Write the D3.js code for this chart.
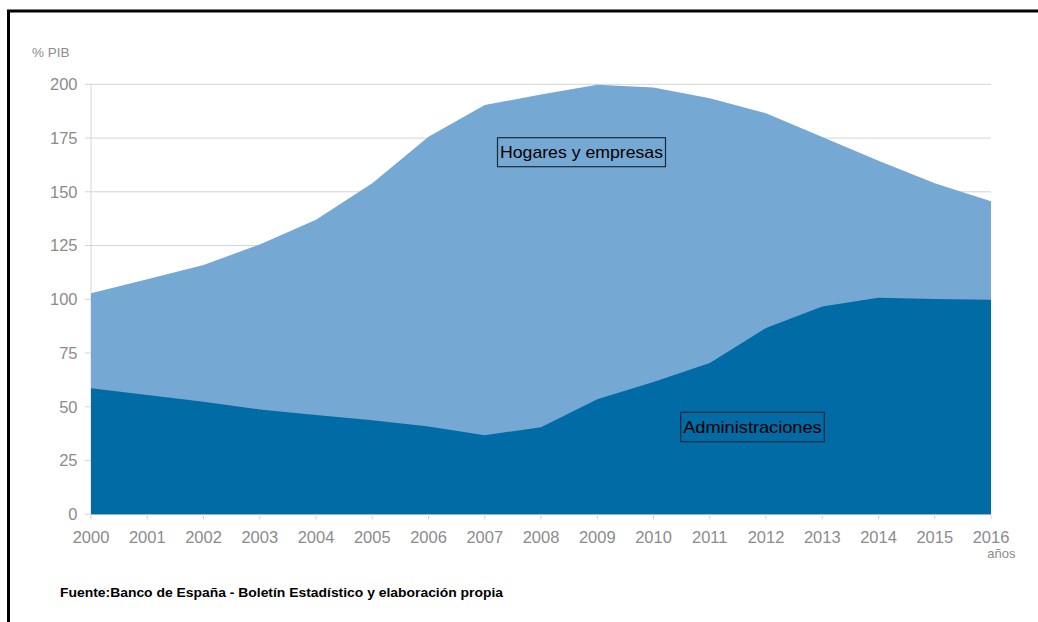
<!DOCTYPE html>
<html>
<head>
<meta charset="utf-8">
<script src="https://cdn.jsdelivr.net/npm/d3@7"></script>
<style>
  html, body { margin: 0; padding: 0; background: #fff; }
  svg { display: block; font-family: "Liberation Sans", Arial, sans-serif; }
</style>
</head>
<body>
<svg id="chart" width="1038" height="622"></svg>
<script>
// ---- data ----
const years = [2000, 2001, 2002, 2003, 2004, 2005, 2006, 2007, 2008, 2009, 2010, 2011, 2012, 2013, 2014, 2015, 2016];
const administraciones = [58.6, 55.5, 52.3, 48.8, 46.2, 43.8, 40.8, 36.8, 40.5, 53.5, 61.5, 70.4, 86.6, 96.6, 100.7, 100.1, 99.8];
const totalDeuda = [102.8, 109.3, 116.0, 125.5, 137.0, 154.0, 175.6, 190.4, 195.2, 199.8, 198.5, 193.5, 186.5, 175.5, 164.5, 154.0, 145.6];
const yTicks = [0, 25, 50, 75, 100, 125, 150, 175, 200];
const seriesNames = ["Administraciones", "Hogares y empresas"];
const yUnit = "% PIB";
const xUnit = "años";
const source = "Fuente:Banco de España - Boletín Estadístico y elaboración propia";

// ---- layout ----
const svg = d3.select("#chart");
const x = d3.scaleLinear().domain([2000, 2016]).range([91, 991]);
const y = d3.scaleLinear().domain([0, 200]).range([514.3, 84.3]);
const gray = "#8c8c8c";
const gridColor = "#d4d4d4";

// frame
svg.append("rect")
  .attr("x", 8.5).attr("y", 11).attr("width", 1100).attr("height", 700)
  .attr("fill", "none").attr("stroke", "#000").attr("stroke-width", 3);

// gridlines
svg.append("g").selectAll("line").data(yTicks).join("line")
  .attr("x1", 85).attr("x2", x(2016))
  .attr("y1", d => y(d)).attr("y2", d => y(d))
  .attr("stroke", gridColor).attr("stroke-width", 1);

// y axis line
svg.append("line")
  .attr("x1", x(2000)).attr("x2", x(2000))
  .attr("y1", y(200)).attr("y2", y(0))
  .attr("stroke", gridColor);

const data = years.map((yr, i) => ({ yr, adm: administraciones[i], tot: totalDeuda[i] }));

const areaTot = d3.area().x(d => x(d.yr)).y0(y(0)).y1(d => y(d.tot)).curve(d3.curveLinear);
const areaAdm = d3.area().x(d => x(d.yr)).y0(y(0)).y1(d => y(d.adm)).curve(d3.curveLinear);

svg.append("path").datum(data).attr("d", areaTot).attr("fill", "#75a8d3");
svg.append("path").datum(data).attr("d", areaAdm).attr("fill", "#006ba5");

// x axis ticks
svg.append("g").selectAll("line").data(years).join("line")
  .attr("x1", d => x(d)).attr("x2", d => x(d))
  .attr("y1", y(0)).attr("y2", y(0) + 5)
  .attr("stroke", gridColor);

// x labels
svg.append("g").selectAll("text").data(years).join("text")
  .attr("x", d => x(d)).attr("y", 543.3)
  .attr("text-anchor", "middle")
  .attr("font-size", 16.5).attr("fill", gray)
  .text(d => d);

// y labels
svg.append("g").selectAll("text").data(yTicks).join("text")
  .attr("x", 77.5).attr("y", d => y(d))
  .attr("dy", "0.36em")
  .attr("text-anchor", "end")
  .attr("font-size", 16.5).attr("fill", gray)
  .text(d => d);

// unit labels
svg.append("text").attr("x", 32).attr("y", 56.5)
  .attr("font-size", 13.5).attr("fill", gray).text(yUnit);
svg.append("text").attr("x", 1015.5).attr("y", 557.5)
  .attr("text-anchor", "end")
  .attr("font-size", 13).attr("fill", gray).text(xUnit);

// series labels with boxes
function boxLabel(txt, bx, by, bw, bh, tlen) {
  svg.append("rect").attr("x", bx).attr("y", by).attr("width", bw).attr("height", bh)
    .attr("fill", "none").attr("stroke", "#1c2a38").attr("stroke-width", 1.2);
  svg.append("text").attr("x", bx + 2.5).attr("y", by + bh / 2)
    .attr("dy", "0.36em")
    .attr("font-size", 17).attr("fill", "#000")
    .attr("textLength", tlen).attr("lengthAdjust", "spacingAndGlyphs")
    .text(txt);
}
boxLabel(seriesNames[1], 497.5, 137.7, 168, 29, 163);
boxLabel(seriesNames[0], 680.7, 412.3, 143.6, 29.4, 138.5);

// source
svg.append("text").attr("x", 60).attr("y", 596.7)
  .attr("font-size", 12).attr("font-weight", "bold").attr("fill", "#000")
  .attr("textLength", 443).attr("lengthAdjust", "spacingAndGlyphs")
  .text(source);
</script>
</body>
</html>
